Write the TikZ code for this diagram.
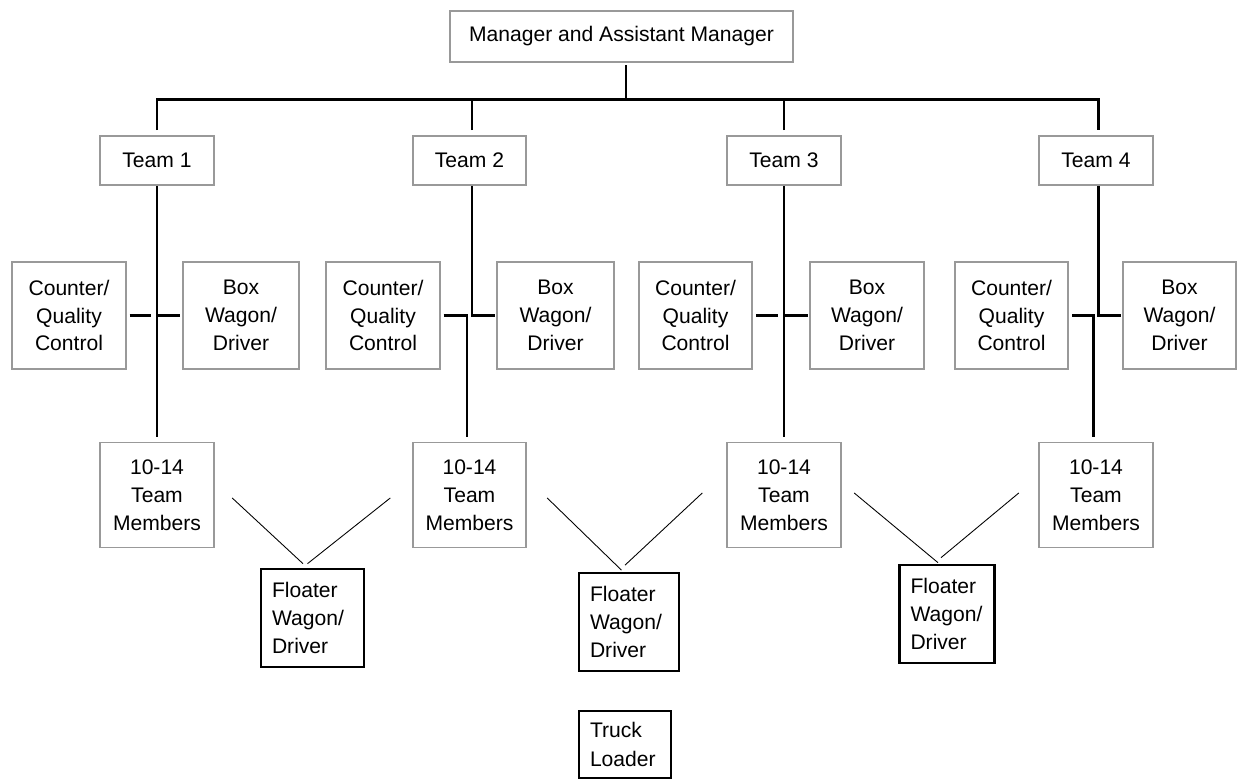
\documentclass[tikz,border=0pt]{standalone}
\usepackage{fontspec}
\setmainfont{Liberation Sans}
\usetikzlibrary{calc}

\begin{document}
\begin{tikzpicture}[
  unit/.style={draw=black!40,line width=1.1pt,align=center,inner sep=0pt,font=\fontsize{12}{15.9}\selectfont},
  floater/.style={draw=black,line width=1.5pt,align=left,inner ysep=0pt,inner xsep=0.22cm,text width=#1,minimum height=1.96cm,font=\fontsize{12}{15.9}\selectfont},
  link/.style={black,line width=1.3pt},
  thinlink/.style={black,line width=0.5pt}]
\useasboundingbox (0,0) rectangle (24.76,15.62);

% top of the chart
\node[unit,minimum width=6.86cm,minimum height=1.02cm] (mgr) at (12.43,14.89) {Manager and Assistant Manager};
\coordinate (bus) at (0,13.63);

\node[unit,minimum width=2.27cm,minimum height=0.98cm] (t1) at (3.14,12.41) {Team 1};
\node[unit,minimum width=2.27cm,minimum height=0.98cm] (t2) at (9.39,12.41) {Team 2};
\node[unit,minimum width=2.27cm,minimum height=0.98cm] (t3) at (15.68,12.41) {Team 3};
\node[unit,minimum width=2.27cm,minimum height=0.98cm] (t4) at (21.92,12.41) {Team 4};

% middle row
\node[unit,minimum width=2.27cm,minimum height=2.15cm] (c1) at (1.38,9.31) {Counter/\\Quality\\Control};
\node[unit,minimum width=2.33cm,minimum height=2.15cm] (b1) at (4.82,9.31) {Box\\Wagon/\\Driver};
\node[unit,minimum width=2.27cm,minimum height=2.15cm] (c2) at (7.66,9.31) {Counter/\\Quality\\Control};
\node[unit,minimum width=2.33cm,minimum height=2.15cm] (b2) at (11.11,9.31) {Box\\Wagon/\\Driver};
\node[unit,minimum width=2.27cm,minimum height=2.15cm] (c3) at (13.91,9.31) {Counter/\\Quality\\Control};
\node[unit,minimum width=2.27cm,minimum height=2.15cm] (b3) at (17.34,9.31) {Box\\Wagon/\\Driver};
\node[unit,minimum width=2.27cm,minimum height=2.15cm] (c4) at (20.23,9.31) {Counter/\\Quality\\Control};
\node[unit,minimum width=2.26cm,minimum height=2.15cm] (b4) at (23.59,9.31) {Box\\Wagon/\\Driver};

% team members
\node[unit,minimum width=2.27cm,minimum height=2.10cm] (m1) at (3.14,5.72) {10-14\\Team\\Members};
\node[unit,minimum width=2.27cm,minimum height=2.10cm] (m2) at (9.39,5.72) {10-14\\Team\\Members};
\node[unit,minimum width=2.27cm,minimum height=2.10cm] (m3) at (15.68,5.72) {10-14\\Team\\Members};
\node[unit,minimum width=2.27cm,minimum height=2.10cm] (m4) at (21.92,5.72) {10-14\\Team\\Members};

% floaters and loader
\node[floater=1.62cm] (f1) at (6.25,3.26) {Floater\\Wagon/\\Driver};
\node[floater=1.56cm] (f2) at (12.58,3.18) {Floater\\Wagon/\\Driver};
\node[floater=1.46cm] (f3) at (18.94,3.34) {Floater\\Wagon/\\Driver};
\node[floater=1.40cm,minimum height=1.34cm,font=\fontsize{12}{17}\selectfont] (tl) at (12.50,0.73) {Truck\\Loader};

% manager to teams
\draw[link,shorten <=0.05cm] ([xshift=0.09cm]mgr.south) -- ([xshift=0.09cm]mgr.south |- bus);
\draw[link,shorten <=0.1cm,shorten >=0.1cm] (t1.north) -- (t1.north |- bus) -- ([xshift=0.05cm]t4.north |- bus) -- ([xshift=0.05cm]t4.north);
\draw[link,shorten <=0.1cm] ([xshift=0.05cm]t2.north) -- ([xshift=0.05cm]t2.north |- bus);
\draw[link,shorten <=0.1cm] (t3.north) -- (t3.north |- bus);

% team 1
\draw[link,shorten >=0.1cm] (t1.south) -- (m1.north);
\draw[link,shorten <=0.06cm,shorten >=0.12cm] (c1.east) -- (c1.east -| t1.south);
\draw[link,shorten >=0.03cm] (t1.south |- b1.west) -- (b1.west);
% team 2
\draw[link,shorten >=0.03cm] ([xshift=0.05cm]t2.south) |- (b2.west);
\draw[link,shorten <=0.06cm,shorten >=0.1cm] (c2.east) -| ([xshift=-0.05cm]m2.north);
% team 3
\draw[link,shorten >=0.1cm] (t3.south) -- (m3.north);
\draw[link,shorten <=0.06cm,shorten >=0.12cm] (c3.east) -- (c3.east -| t3.south);
\draw[link,shorten >=0.03cm] (t3.south |- b3.west) -- (b3.west);
% team 4
\draw[link,shorten >=0.03cm] ([xshift=0.05cm]t4.south) |- (b4.west);
\draw[link,shorten <=0.06cm,shorten >=0.1cm] (c4.east) -| ([xshift=-0.05cm]m4.north);

% floaters shared by two teams
\draw[thinlink] ($(m1.east)+(0.35,-0.06)$) -- ($(f1.north)+(-0.19,0.08)$);
\draw[thinlink] ($(m2.west)+(-0.43,-0.06)$) -- ($(f1.north)+(-0.10,0.08)$);
\draw[thinlink] ($(m2.east)+(0.40,-0.06)$) -- ($(f2.north)+(-0.15,0.03)$);
\draw[thinlink] ($(m3.west)+(-0.48,0.04)$) -- ($(f2.north)+(-0.08,0.13)$);
\draw[thinlink] ($(m3.east)+(0.25,0.04)$) -- ($(f3.north)+(-0.18,0.02)$);
\draw[thinlink] ($(m4.west)+(-0.39,0.04)$) -- ($(f3.north)+(-0.12,0.12)$);

\end{tikzpicture}
\end{document}
